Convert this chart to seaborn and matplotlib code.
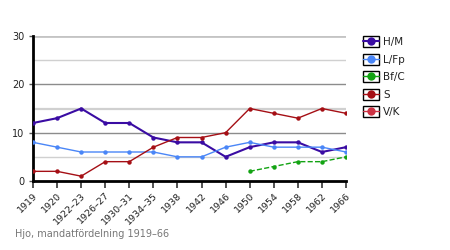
import matplotlib
matplotlib.use("Agg")
import matplotlib.pyplot as plt
import seaborn as sns
import numpy as np
import pandas as pd
from matplotlib.lines import Line2D
from matplotlib.patches import Rectangle
from matplotlib.legend_handler import HandlerLine2D

categories = ["1919", "1920", "1922–23", "1926–27", "1930–31", "1934–35", "1938",
              "1942", "1946", "1950", "1954", "1958", "1962", "1966"]
hm = [12, 13, 15, 12, 12, 9, 8, 8, 5, 7, 8, 8, 6, 7]
lfp = [8, 7, 6, 6, 6, 6, 5, 5, 7, 8, 7, 7, 7, 6]
bfc = [None, None, None, None, None, None, None, None, None, 2, 3, 4, 4, 5]
s = [2, 2, 1, 4, 4, 7, 9, 9, 10, 15, 14, 13, 15, 14]
vk = [None] * 14
series_names = ["H/M", "L/Fp", "Bf/C", "S", "V/K"]
yticks = [0, 10, 20, 30]
caption = "Hjo, mandatfördelning 1919–66"

colors = {"H/M": "#3a0ca3", "L/Fp": "#4a86f7", "Bf/C": "#13a313", "S": "#a50f15", "V/K": "#cc3344"}
widths = {"H/M": 1.5, "L/Fp": 1.0, "Bf/C": 1.0, "S": 1.0, "V/K": 1.0}
styles = {"H/M": "-", "L/Fp": "-", "Bf/C": "--", "S": "-", "V/K": "-"}

sns.set_theme(style="white")
plt.rcParams["font.family"] = ["DejaVu Sans"]

fig = plt.figure(figsize=(4.5, 2.5), dpi=100)
ax = fig.add_axes([33 / 450, 1 - 181 / 250, (346 - 33) / 450, (181 - 36) / 250])

data = {"H/M": hm, "L/Fp": lfp, "Bf/C": bfc, "S": s, "V/K": vk}
pos = np.arange(len(categories))
for name in series_names:
    vals = pd.Series(data[name], dtype=float)
    df = pd.DataFrame({"x": pos, "y": vals}).dropna()
    if df.empty:
        continue
    sns.lineplot(data=df, x="x", y="y", ax=ax, color=colors[name], lw=widths[name],
                 linestyle=styles[name], marker="o", markersize=3.2, markeredgewidth=0,
                 zorder=3)

# gridlines
for v, c, w in [(5, "#d0d0d0", 1.0), (10, "#8c8c8c", 1.0), (15, "#d0d0d0", 1.6),
                (20, "#8c8c8c", 1.0), (25, "#d0d0d0", 1.0), (30, "#c4c4c4", 2.0)]:
    ax.axhline(v, color=c, lw=w, zorder=1)

ax.set_xlim(0, len(categories) - 1)
ax.set_ylim(0, 30)
ax.set_xticks(pos)
ax.set_xticklabels(categories, rotation=45, ha="right", rotation_mode="anchor",
                   fontsize=6.8, color="#222222")
ax.set_yticks(yticks)
ax.set_yticklabels([str(t) for t in yticks], fontsize=7, color="#222222")
ax.set_xlabel("")
ax.set_ylabel("")
for side in ["top", "right"]:
    ax.spines[side].set_visible(False)
ax.spines["left"].set_linewidth(2)
ax.spines["bottom"].set_linewidth(2)
ax.spines["left"].set_color("black")
ax.spines["bottom"].set_color("black")
ax.tick_params(axis="x", direction="out", length=5, width=1.2, color="#333333", pad=2, bottom=True)
ax.tick_params(axis="y", direction="out", length=3, width=1, color="#555555", pad=3, left=True)


class BoxHandler(HandlerLine2D):
    def create_artists(self, legend, orig_handle, xdescent, ydescent, width, height, fontsize, trans):
        arts = super().create_artists(legend, orig_handle, xdescent, ydescent, width, height, fontsize, trans)
        rect = Rectangle((-xdescent, -ydescent - 1), width, height + 2, fill=False,
                         edgecolor="black", lw=1.0, transform=trans)
        return [rect] + list(arts)


handles = [Line2D([0], [0], color=colors[n], lw=widths[n], marker="o", markersize=6,
                  markeredgewidth=0) for n in series_names]
leg = fig.legend(handles, series_names, loc="upper left", bbox_to_anchor=(354 / 450, 1 - 28 / 250),
                 frameon=False, fontsize=7.5, handlelength=1.5, handleheight=0.9,
                 labelspacing=0.72, handletextpad=0.4,
                 handler_map={Line2D: BoxHandler(numpoints=1)})
for t in leg.get_texts():
    t.set_color("#222222")

fig.text(15 / 450, 1 - 234 / 250, caption, fontsize=7, color="#777777", va="center", ha="left")

fig.savefig("out.png", dpi=100)
